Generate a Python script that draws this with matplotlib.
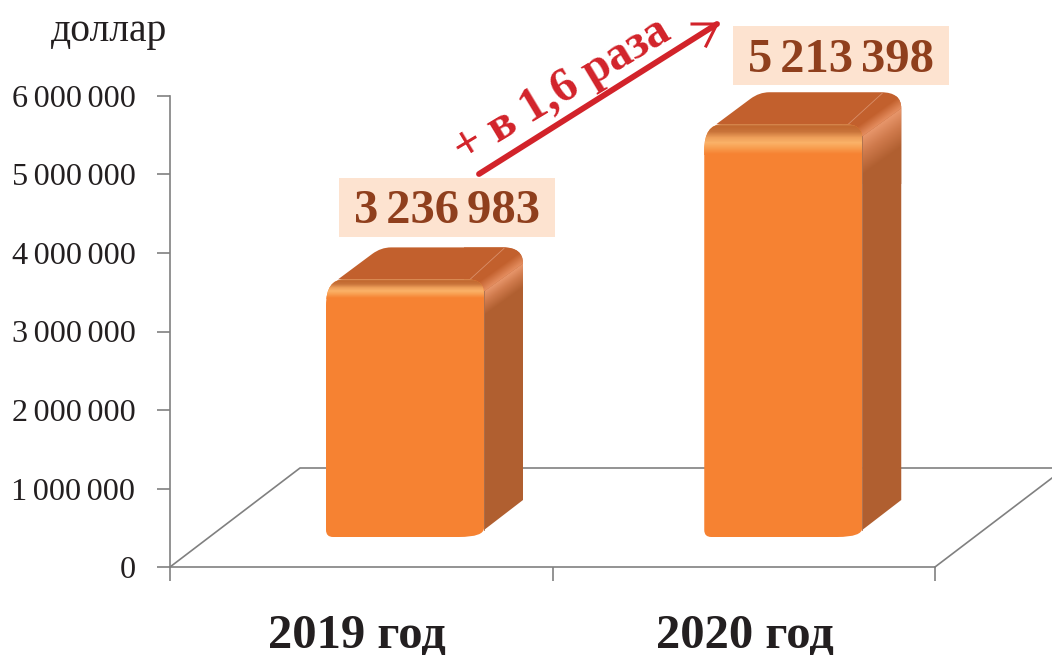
import numpy as np
import matplotlib
matplotlib.use("Agg")
import matplotlib.pyplot as plt
from matplotlib.path import Path
from matplotlib.patches import PathPatch, Rectangle
from matplotlib.transforms import Affine2D
from matplotlib.colors import to_rgb

GAP = "\u200a\u200a"
categories = ["2019 год", "2020 год"]
values = [3236983, 5213398]
value_labels = [f"3{GAP}236{GAP}983", f"5{GAP}213{GAP}398"]
y_ticks = [0, 1000000, 2000000, 3000000, 4000000, 5000000, 6000000]
y_tick_labels = ["0", f"1{GAP}000{GAP}000", f"2{GAP}000{GAP}000", f"3{GAP}000{GAP}000",
                 f"4{GAP}000{GAP}000", f"5{GAP}000{GAP}000", f"6{GAP}000{GAP}000"]
unit_label = "доллар"
growth_label = "+ в 1,6 раза"

W, H = 1052, 655
plt.rcParams['font.family'] = ['Liberation Serif', 'DejaVu Serif']
fig = plt.figure(figsize=(W / 100, H / 100), dpi=100)
ax = fig.add_axes([170 / W, (H - 567) / H, (935 - 170) / W, (567 - 96) / H])
ax.set_xlim(-0.5, 1.5)
ax.set_ylim(0, 6000000)
PX = Affine2D().scale(1, -1).translate(0, H)   # top-down pixel space


def to_px(x, y):
    p = ax.transData.transform((x, y))
    return p[0], H - p[1]


def rounded(verts):
    """verts: (x, y, dist_before, dist_after)"""
    v, c = [], []
    n = len(verts)
    for i, (x, y, a, b) in enumerate(verts):
        px, py = verts[i - 1][:2]
        nx, ny = verts[(i + 1) % n][:2]
        d0 = np.hypot(px - x, py - y)
        d1 = np.hypot(nx - x, ny - y)
        s = (x + (px - x) * a / d0, y + (py - y) * a / d0)
        e = (x + (nx - x) * b / d1, y + (ny - y) * b / d1)
        v.append(s)
        c.append(Path.MOVETO if i == 0 else Path.LINETO)
        if a or b:
            v += [(x, y), e]
            c += [Path.CURVE3, Path.CURVE3]
    v.append(v[0])
    c.append(Path.CLOSEPOLY)
    return Path(v, c)


def shade(path, box, func, stops, z):
    x0, y0, x1, y1 = box
    xs, ys = np.meshgrid(np.arange(x0, x1) + .5, np.arange(y0, y1) + .5)
    t = np.clip(func(xs, ys), 0, 1)
    pos = [s[0] for s in stops]
    cols = np.array([to_rgb(s[1]) for s in stops])
    arr = np.dstack([np.interp(t, pos, cols[:, k]) for k in range(3)])
    im = ax.imshow(arr, extent=(x0, x1, y1, y0), origin='upper', transform=PX,
                   aspect='auto', zorder=z, interpolation='nearest')
    clip = PathPatch(path, transform=PX, fc='none', ec='none')
    im.set_clip_path(clip)


# floor
FLOOR = '#808080'
for pts in ([(170, 567), (300, 468), (1052, 468)], [(935, 567), (1052, 478)]):
    xs, ys = zip(*pts)
    ax.plot(xs, ys, transform=PX, color=FLOOR, lw=1.2, clip_on=False, zorder=1)

# bars
half_w = 79
bar_shift = [43.75, 39.5]
label_dx = [85.75, 97.5]
label_dy = [105.5, 102]
for i, val in enumerate(values):
    cx0, vy = to_px(i, val)
    _, zero = to_px(i, 0)
    cx = cx0 + bar_shift[i]
    L, R = cx - half_w, cx + half_w
    T, B = vy - 33.5, zero - 30
    bh = (B - T) * 0.072
    # side
    DX, DY = 39, 28
    side = rounded([(R, T + 12, 0, 0), (R + DX, T + 12 - DY, 0, 0),
                    (R + DX, B - 37, 0, 4), (R, B - 7, 0, 0)])
    edge = lambda xs, ys, R=R, T=T, DX=DX, DY=DY: ys - (T + 12 - (xs - R) * DY / DX)
    ax.add_patch(PathPatch(side, transform=PX, fc='#B05F30', ec='none', zorder=3, clip_on=False))
    shade(side, (int(R), int(T - 20), int(R + DX + 1), int(T + 60)),
          lambda xs, ys, e=edge, b=bh: e(xs, ys) / (b * 1.3),
          [(0, '#E8976C'), (0.45, '#CF7A4C'), (1, '#B05F30')], 3.5)
    # top
    top = rounded([(L + 12, T, 0, 0), (L + 55, T - 32, 11, 10), (R + DX, T - 32, 20, 16),
                   (R + DX, T + 12 - DY, 0, 0), (R, T + 12, 0, 0), (R - 14, T, 0, 0)])
    ax.add_patch(PathPatch(top, transform=PX, fc='#C2602D', ec='none', zorder=4, clip_on=False))
    shade(top, (int(R - 20), int(T - 34), int(R + DX + 1), int(T + 14)),
          lambda xs, ys, e=edge: -e(xs, ys) / 24,
          [(0, '#E58E60'), (0.55, '#C2602D'), (1, '#C2602D')], 4.5)
    ax.plot([R - 14, R + 20], [T, T - 31], transform=PX, color='#D98F6A', lw=0.6,
            zorder=4.7, clip_on=False)
    # front
    front = rounded([(L, B, 7, 7), (R, B, 25, 9), (R, T, 14, 16), (L, T, 18, 26)])
    ax.add_patch(PathPatch(front, transform=PX, fc='#F68232', ec='none', zorder=5, clip_on=False))
    shade(front, (int(L), int(T), int(R + 1), int(T + bh + 2)),
          lambda xs, ys, T=T, b=bh: (ys - T) / b,
          [(0, '#CC8048'), (0.08, '#C2682F'), (0.25, '#C9743A'), (0.45, '#EE9F5A'),
           (0.62, '#FBB268'), (0.78, '#F9A052'), (1, '#F68232')], 5.5)
    ax.plot([R, R], [T + 12, B - 7], transform=PX, color='#A9704F', lw=0.6, zorder=6, clip_on=False)
    # value box and label
    bx, by = cx0 + label_dx[i], vy - label_dy[i]
    ax.add_patch(Rectangle((bx - 108, by - 29.5), 216, 59, transform=PX, fc='#FDE3D0',
                           ec='none', zorder=7, clip_on=False))
    ax.text(bx, by - 1, value_labels[i], transform=PX, fontsize=35, fontweight='bold',
            color='#8F3F1D', ha='center', va='center_baseline', zorder=8, clip_on=False)

# axes
for s in ('top', 'right'):
    ax.spines[s].set_visible(False)
for s in ('left', 'bottom'):
    ax.spines[s].set_color(FLOOR)
    ax.spines[s].set_linewidth(1.2)
ax.spines['bottom'].set_zorder(2)
ax.set_xticks([-0.5, 0.5, 1.5], ['', '', ''])
ax.tick_params(axis='x', length=10, width=1.2, color=FLOOR)
ax.set_yticks(y_ticks, y_tick_labels)
ax.tick_params(axis='y', length=9.4, width=1.2, color=FLOOR, pad=15.5,
               labelsize=23.2, labelcolor='#231F20')
ax.patch.set_alpha(0)
ax.set_xlim(-0.5, 1.5)
ax.set_ylim(0, 6000000)

# category labels
cat_px = [357, 745]
for name, x in zip(categories, cat_px):
    ax.text(x, 647, name, transform=PX, fontsize=35, fontweight='bold', color='#231F20',
            ha='center', va='baseline', clip_on=False)
ax.text(109, 41, unit_label, transform=PX, fontsize=28.5, color='#231F20', ha='center',
        va='baseline', clip_on=False)

# growth arrow
RED = '#D2232A'
ax.plot([479, 717], [174, 24], transform=PX, color=RED, lw=4.2, solid_capstyle='round',
        clip_on=False, zorder=9)
ax.plot([692, 717, 706], [24, 24, 46], transform=PX, color=RED, lw=2.2,
        solid_joinstyle='miter', clip_on=False, zorder=9)
ax.text(562, 90, growth_label, transform=PX, fontsize=34.7, fontweight='bold', color=RED,
        rotation=31, rotation_mode='anchor', ha='center', va='center', clip_on=False, zorder=9)

fig.savefig('out.png', dpi=100)
